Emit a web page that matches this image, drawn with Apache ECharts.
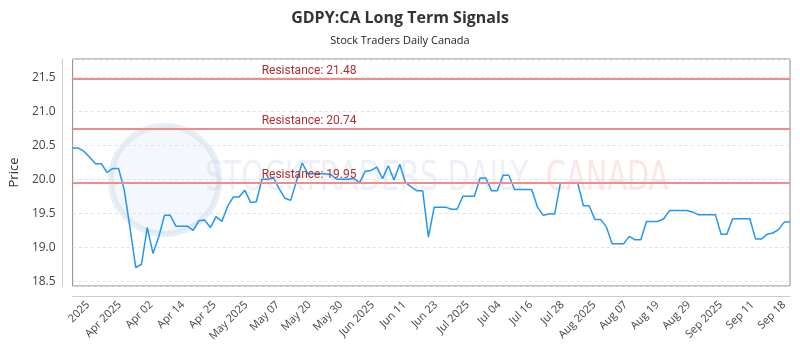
<!DOCTYPE html>
<html>
<head>
<meta charset="utf-8">
<script src="https://cdn.jsdelivr.net/npm/echarts@6/dist/echarts.min.js"></script>
<style>
  html, body { margin: 0; padding: 0; background: #fff; }
  #echartSignals { width: 800px; height: 350px; }
</style>
</head>
<body>
<div id="echartSignals"></div>
<script>
  'use strict'

  /*-----data-----*/
  var prices = [
    20.46, 20.46, 20.41, 20.32, 20.23, 20.23, 20.10, 20.16, 20.16, 19.84,
    19.28, 18.70, 18.75, 19.29, 18.91, 19.15, 19.47, 19.47, 19.31, 19.31,
    19.31, 19.25, 19.39, 19.40, 19.29, 19.45, 19.38, 19.60, 19.74, 19.74,
    19.84, 19.66, 19.67, 20.00, 20.00, 20.02, 19.86, 19.72, 19.69, 19.97,
    20.24, 20.08, 20.08, 20.08, 20.08, 20.07, 20.00, 20.00, 20.00, 20.01,
    19.95, 20.12, 20.13, 20.18, 20.01, 20.20, 19.99, 20.22, 19.95, 19.89,
    19.83, 19.83, 19.15, 19.59, 19.59, 19.59, 19.56, 19.56, 19.75, 19.75,
    19.75, 20.02, 20.02, 19.83, 19.83, 20.06, 20.06, 19.85, 19.85, 19.85,
    19.85, 19.59, 19.47, 19.49, 19.49, 19.95, 19.95, 19.95, 19.95, 19.61,
    19.61, 19.41, 19.41, 19.30, 19.05, 19.05, 19.05, 19.16, 19.11, 19.11,
    19.38, 19.38, 19.38, 19.42, 19.54, 19.54, 19.54, 19.54, 19.52, 19.48,
    19.48, 19.48, 19.48, 19.19, 19.19, 19.42, 19.42, 19.42, 19.42, 19.12,
    19.12, 19.19, 19.21, 19.26, 19.37, 19.37
  ];

  var tickLabels = [
    '2025', 'Apr 2025', 'Apr 02', 'Apr 14', 'Apr 25', 'May 2025', 'May 07',
    'May 20', 'May 30', 'Jun 2025', 'Jun 11', 'Jun 23', 'Jul 2025', 'Jul 04',
    'Jul 16', 'Jul 28', 'Aug 2025', 'Aug 07', 'Aug 19', 'Aug 29', 'Sep 2025',
    'Sep 11', 'Sep 18'
  ];

  var resistance = [21.48, 20.74, 19.95];

  var yMin = 18.43;
  var yMax = 21.77;

  var days = prices.map(function (v, i) { return String(i); });

  /*-----chart-----*/
  var optionSignals = {
    animation: false,
    title: {
      text: 'GDPY:CA Long Term Signals',
      subtext: 'Stock Traders Daily Canada',
      left: 'center',
      top: 5,
      itemGap: 9,
      textStyle: {
        fontFamily: 'Open Sans',
        fontSize: 16,
        fontWeight: 'bold',
        color: '#333'
      },
      subtextStyle: {
        fontFamily: 'Open Sans',
        fontSize: 11,
        color: '#222'
      }
    },
    graphic: [
      {
        type: 'circle',
        z: 0,
        shape: { cx: 165, cy: 180, r: 54 },
        style: { fill: 'rgba(205,218,236,0.22)', stroke: 'rgba(190,205,230,0.35)', lineWidth: 6 }
      },
      {
        type: 'text',
        z: 0,
        x: 205,
        y: 180,
        scaleX: 0.73,
        style: {
          text: 'STOCKTRADERS DAILY',
          font: '40px "DejaVu Sans", sans-serif',
          verticalAlign: 'middle',
          fill: 'rgba(200,210,226,0.32)'
        }
      },
      {
        type: 'text',
        z: 0,
        x: 546,
        y: 180,
        scaleX: 0.72,
        style: {
          text: 'CANADA',
          font: '40px "DejaVu Sans", sans-serif',
          verticalAlign: 'middle',
          fill: 'rgba(240,150,150,0.25)'
        }
      }
    ],
    grid: [
      {
        left: 70,
        right: 10,
        top: 59,
        bottom: 64,
        show: true,
        borderColor: '#888',
        borderWidth: 1
      },
      {
        left: 88,
        right: 16,
        top: 59,
        bottom: 64,
        show: false
      }
    ],
    xAxis: [
      {
        type: 'category',
        gridIndex: 0,
        data: days,
        boundaryGap: false,
        offset: 10,
        axisLine: { lineStyle: { color: '#ccc' } },
        axisTick: { show: false },
        axisLabel: { show: false },
        splitLine: { show: false }
      },
      {
        type: 'category',
        gridIndex: 1,
        data: tickLabels,
        boundaryGap: false,
        offset: 10,
        axisLine: { show: false },
        axisTick: { show: false },
        axisLabel: {
          interval: 0,
          rotate: 45,
          margin: 7,
          fontFamily: 'Open Sans',
          fontSize: 11,
          color: '#444'
        },
        splitLine: { show: false }
      }
    ],
    yAxis: [
      {
        type: 'value',
        gridIndex: 0,
        min: yMin,
        max: yMax,
        splitNumber: 6,
        offset: 10,
        name: 'Price',
        nameLocation: 'middle',
        nameGap: 36,
        nameTextStyle: { fontFamily: 'Open Sans', fontSize: 13, color: '#333' },
        axisLine: { show: true, lineStyle: { color: '#ccc' } },
        axisTick: { show: false },
        axisLabel: {
          showMinLabel: false,
          showMaxLabel: false,
          margin: 7,
          fontFamily: 'Open Sans',
          fontSize: 12,
          color: '#444',
          formatter: function (v) { return v.toFixed(1); }
        },
        splitLine: { lineStyle: { color: '#e2e2e2', type: [3, 3] } }
      },
      {
        type: 'value',
        gridIndex: 1,
        show: false
      }
    ],
    series: [
      {
        name: 'Price',
        type: 'line',
        xAxisIndex: 0,
        yAxisIndex: 0,
        data: prices,
        showSymbol: false,
        z: 3,
        lineStyle: { color: '#2196f3', width: 1.5 },
        markLine: {
          silent: true,
          symbol: 'none',
          animation: false,
          lineStyle: { color: '#f08c8c', width: 2, type: 'solid' },
          label: {
            position: 'insideStartTop',
            distance: [189, 2],
            fontFamily: 'Roboto',
            fontSize: 12,
            color: '#b03030',
            formatter: function (p) { return 'Resistance: ' + p.value.toFixed(2); }
          },
          data: resistance.map(function (r) { return { yAxis: r }; })
        }
      }
    ]
  };

  var chartSignals = echarts.init(document.getElementById('echartSignals'));
  chartSignals.setOption(optionSignals);
</script>
</body>
</html>
